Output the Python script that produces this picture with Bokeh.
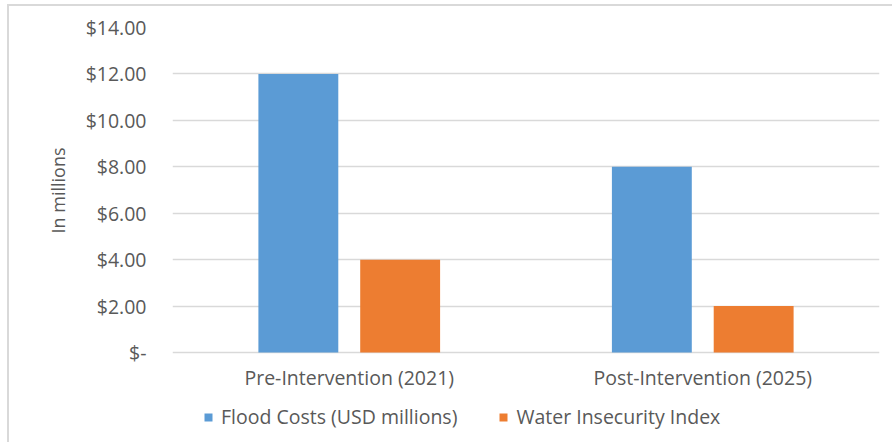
from bokeh.plotting import figure
from bokeh.models import (ColumnDataSource, FactorRange, FixedTicker, Legend,
                          LegendItem, Range1d, Title)
from bokeh.transform import dodge
from bokeh.embed import file_html
from bokeh.resources import INLINE

# Chart data
categories = ["Pre-Intervention (2021)", "Post-Intervention (2025)"]
flood_costs = [12.0, 8.0]
water_insecurity = [4.0, 2.0]
series_names = ["Flood Costs (USD millions)", "Water Insecurity Index"]
y_ticks = [0, 2, 4, 6, 8, 10, 12, 14]
y_tick_labels = ["$-", "$2.00", "$4.00", "$6.00", "$8.00", "$10.00", "$12.00", "$14.00"]

BLUE = "#5B9BD5"
ORANGE = "#ED7D31"
TEXT = "#595959"
GRID = "#D9D9D9"
FONT = "Open Sans"
FS = "19.5px"

# Plot area geometry: the value axis spans VALUE_PX pixels, with room
# underneath for the category labels and the legend (LOWER_PX).
VALUE_PX = 325
LOWER_PX = 92
y_max = y_ticks[-1]
y_min = -y_max * LOWER_PX / VALUE_PX

source = ColumnDataSource(data=dict(cat=categories, flood=flood_costs, water=water_insecurity))

p = figure(
    x_range=FactorRange(*categories, range_padding=0),
    y_range=Range1d(y_min, y_max),
    width=885, height=438,
    output_backend="svg", toolbar_location=None,
    min_border_left=163, min_border_right=15,
    min_border_top=21, min_border_bottom=0,
)
p.styles = {
    "margin-left": "7px", "margin-top": "4px",
    "border-left": "2px solid #D9D9D9", "border-top": "2px solid #D9D9D9",
}
p.outline_line_color = None
p.background_fill_color = "white"
p.border_fill_color = "white"

bw = 0.226
off = 0.144
r1 = p.vbar(x=dodge("cat", -off, range=p.x_range), top="flood", width=bw,
            source=source, fill_color=BLUE, line_color=None)
r2 = p.vbar(x=dodge("cat", off, range=p.x_range), top="water", width=bw,
            source=source, fill_color=ORANGE, line_color=None)

# Grid
p.xgrid.grid_line_color = None
p.ygrid.grid_line_color = GRID
p.ygrid.grid_line_width = 1.5
p.ygrid.ticker = FixedTicker(ticks=y_ticks)

# Value axis
p.yaxis.ticker = FixedTicker(ticks=y_ticks)
p.yaxis.major_label_overrides = {t: s for t, s in zip(y_ticks, y_tick_labels)}
p.yaxis.axis_line_color = None
p.yaxis.major_tick_line_color = None
p.yaxis.minor_tick_line_color = None
p.yaxis.major_label_standoff = 20
p.yaxis.major_label_text_font = FONT
p.yaxis.major_label_text_font_size = FS
p.yaxis.major_label_text_color = TEXT

# Value axis title, placed along the value span
p.add_layout(Title(text="In millions", align="left", offset=211, standoff=26,
                   text_font=FONT, text_font_size="18px",
                   text_font_style="normal", text_color=TEXT), "left")

# Category axis sits on the zero line
p.xaxis.fixed_location = 0
p.xaxis.axis_line_color = None
p.xaxis.major_tick_line_color = None
p.xaxis.major_label_standoff = 5
p.xaxis.major_label_text_font = FONT
p.xaxis.major_label_text_font_size = FS
p.xaxis.major_label_text_color = TEXT

legend = Legend(
    items=[LegendItem(label=series_names[0], renderers=[r1]),
           LegendItem(label=series_names[1], renderers=[r2])],
    orientation="horizontal",
    location=(31, 14),
    glyph_width=10, glyph_height=10,
    label_standoff=8, spacing=41, padding=0, margin=0,
    label_text_font=FONT, label_text_font_size=FS, label_text_color=TEXT,
    border_line_color=None, background_fill_alpha=0,
)
p.add_layout(legend)

open("out.html", "w").write(file_html(p, INLINE))
